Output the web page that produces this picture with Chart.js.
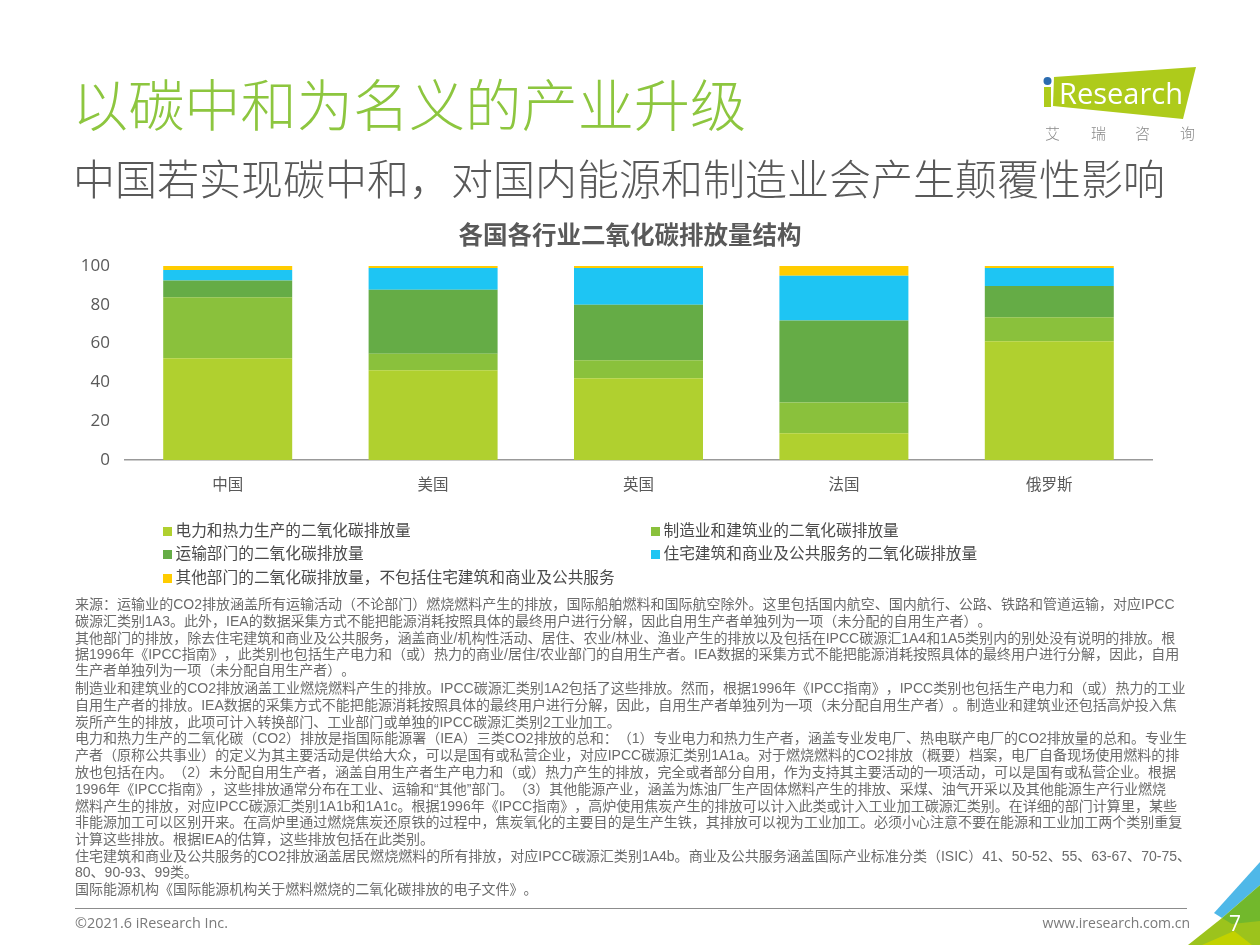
<!DOCTYPE html>
<html lang="zh-CN">
<head>
<meta charset="utf-8">
<title>以碳中和为名义的产业升级</title>
<script src="https://cdn.jsdelivr.net/npm/chart.js@4"></script>
<style>
  html, body { margin: 0; padding: 0; background: #fff; }
  body { position: relative; width: 1260px; height: 945px; overflow: hidden;
         font-family: "Noto Sans CJK SC", "Noto Sans", sans-serif; text-spacing-trim: space-all; }
  canvas { position: absolute; left: 0; top: 0; }
  .abs { position: absolute; white-space: nowrap; }
  .tc { font-family: "Noto Sans CJK TC", sans-serif; }
  #head { left: 72px; top: 60px; font-size: 56.2px; line-height: 84px; color: #8DC63F; font-weight: 300; }
  #sub { left: 73px; top: 147px; font-size: 42px; line-height: 60px; color: #595959; font-weight: 300; }
  .leg { position: absolute; font-size: 15.7px; line-height: 22px; color: #4a4a4a; white-space: nowrap; padding-left: 12.5px; }
  .leg i { position: absolute; left: 0; top: 8px; width: 9px; height: 9px; }
  #notes { left: 75px; top: 595px; font-family: "Liberation Sans", "Noto Sans CJK SC", sans-serif; font-size: 14.02px; line-height: 16.8px; color: #6b6b6b; }
  #notes div { height: 16.8px; }
  #rule { position: absolute; left: 75px; top: 908px; width: 1112px; height: 1px; background: #8c8c8c; }
  #copy { left: 75px; top: 914px; font: 14.4px/18px "Open Sans", sans-serif; color: #7a7a7a; }
  #site { right: 70px; top: 914px; font: 14px/18px "Open Sans", sans-serif; color: #7a7a7a; }
  #page { left: 1229px; top: 909px; font: 21px/28px "Open Sans", sans-serif; color: #fff; }
  svg { position: absolute; left: 0; top: 0; }
</style>
</head>
<body>
<canvas id="chart" width="1260" height="945"></canvas>
<svg width="1260" height="945" viewBox="0 0 1260 945">
  <polygon points="1214,913 1260,862 1260,885 1222,918" fill="#4FB8E8"/>
  <polygon points="1188,945 1222,918 1260,918 1260,945" fill="#9CC31C"/>
  <polygon points="1222,918 1260,885 1260,921 1232,924" fill="#72B82C"/>
  <polygon points="1202,945 1234,931 1252,945" fill="#C2D200"/>
  <polygon points="1054,77 1196,67 1183,119 1053,106" fill="#AECB1B"/>
  <rect x="1044" y="87" width="7" height="20" fill="#AECB1B"/>
  <circle cx="1047.5" cy="81" r="4" fill="#2B6CB0"/>
  <text x="1059" y="104" font-family="Open Sans" font-size="29" fill="#fff">Research</text>
  <text x="1045" y="139" font-family="Noto Sans CJK SC" font-size="15" fill="#8a8a8a" font-weight="300">艾</text>
  <text x="1091" y="139" font-family="Noto Sans CJK SC" font-size="15" fill="#8a8a8a" font-weight="300">瑞</text>
  <text x="1135" y="139" font-family="Noto Sans CJK SC" font-size="15" fill="#8a8a8a" font-weight="300">咨</text>
  <text x="1180" y="139" font-family="Noto Sans CJK SC" font-size="15" fill="#8a8a8a" font-weight="300">询</text>
</svg>
<div class="abs" id="head">以碳中和为名义的产业升级</div>
<div class="abs" id="sub">中国若实现碳中和<span class="tc">，</span>对国内能源和制造业会产生颠覆性影响</div>
<div id="legend"></div>
<div class="abs" id="notes"></div>
<div id="rule"></div>
<div class="abs" id="copy">©2021.6 iResearch Inc.</div>
<div class="abs" id="site">www.iresearch.com.cn</div>
<div class="abs" id="page">7</div>
<script>
const chartTitle = '各国各行业二氧化碳排放量结构';
const categories = ['中国', '美国', '英国', '法国', '俄罗斯'];
const seriesNames = [
  '电力和热力生产的二氧化碳排放量',
  '制造业和建筑业的二氧化碳排放量',
  '运输部门的二氧化碳排放量',
  '住宅建筑和商业及公共服务的二氧化碳排放量',
  '其他部门的二氧化碳排放量，不包括住宅建筑和商业及公共服务'
];
const power = [52.4, 46.2, 42.1, 13.8, 61.2];
const manufacturing = [31.5, 8.6, 9.3, 15.9, 12.4];
const transport = [8.6, 33.0, 28.6, 42.2, 16.1];
const residential = [5.4, 11.2, 19.0, 23.1, 9.3];
const other = [2.1, 1.0, 1.0, 5.0, 1.0];
const colors = ['#B0D02F', '#8AC13C', '#65AC46', '#1EC5F3', '#FFCC00'];
const yTicks = [0, 20, 40, 60, 80, 100];

const noteLines = [
  '来源：运输业的CO2排放涵盖所有运输活动（不论部门）燃烧燃料产生的排放，国际船舶燃料和国际航空除外。这里包括国内航空、国内航行、公路、铁路和管道运输，对应IPCC',
  '碳源汇类别1A3。此外，IEA的数据采集方式不能把能源消耗按照具体的最终用户进行分解，因此自用生产者单独列为一项（未分配的自用生产者）。',
  '其他部门的排放，除去住宅建筑和商业及公共服务，涵盖商业/机构性活动、居住、农业/林业、渔业产生的排放以及包括在IPCC碳源汇1A4和1A5类别内的别处没有说明的排放。根',
  '据1996年《IPCC指南》，此类别也包括生产电力和（或）热力的商业/居住/农业部门的自用生产者。IEA数据的采集方式不能把能源消耗按照具体的最终用户进行分解，因此，自用',
  '生产者单独列为一项（未分配自用生产者）。',
  '制造业和建筑业的CO2排放涵盖工业燃烧燃料产生的排放。IPCC碳源汇类别1A2包括了这些排放。然而，根据1996年《IPCC指南》，IPCC类别也包括生产电力和（或）热力的工业',
  '自用生产者的排放。IEA数据的采集方式不能把能源消耗按照具体的最终用户进行分解，因此，自用生产者单独列为一项（未分配自用生产者）。制造业和建筑业还包括高炉投入焦',
  '炭所产生的排放，此项可计入转换部门、工业部门或单独的IPCC碳源汇类别2工业加工。',
  '电力和热力生产的二氧化碳（CO2）排放是指国际能源署（IEA）三类CO2排放的总和：（1）专业电力和热力生产者，涵盖专业发电厂、热电联产电厂的CO2排放量的总和。专业生',
  '产者（原称公共事业）的定义为其主要活动是供给大众，可以是国有或私营企业，对应IPCC碳源汇类别1A1a。对于燃烧燃料的CO2排放（概要）档案，电厂自备现场使用燃料的排',
  '放也包括在内。（2）未分配自用生产者，涵盖自用生产者生产电力和（或）热力产生的排放，完全或者部分自用，作为支持其主要活动的一项活动，可以是国有或私营企业。根据',
  '1996年《IPCC指南》，这些排放通常分布在工业、运输和“其他”部门。（3）其他能源产业，涵盖为炼油厂生产固体燃料产生的排放、采煤、油气开采以及其他能源生产行业燃烧',
  '燃料产生的排放，对应IPCC碳源汇类别1A1b和1A1c。根据1996年《IPCC指南》，高炉使用焦炭产生的排放可以计入此类或计入工业加工碳源汇类别。在详细的部门计算里，某些',
  '非能源加工可以区别开来。在高炉里通过燃烧焦炭还原铁的过程中，焦炭氧化的主要目的是生产生铁，其排放可以视为工业加工。必须小心注意不要在能源和工业加工两个类别重复',
  '计算这些排放。根据IEA的估算，这些排放包括在此类别。',
  '住宅建筑和商业及公共服务的CO2排放涵盖居民燃烧燃料的所有排放，对应IPCC碳源汇类别1A4b。商业及公共服务涵盖国际产业标准分类（ISIC）41、50-52、55、63-67、70-75、',
  '80、90-93、99类。',
  '国际能源机构《国际能源机构关于燃料燃烧的二氧化碳排放的电子文件》。'
];

// the slide font centres these marks, the TC cut does the same
const centred = s => s.replace(/[，：]/g, m => '<span class="tc">' + m + '</span>');

// one div per line, the line breaks are the ones on the slide
document.getElementById('notes').innerHTML = noteLines.map(l => '<div>' + centred(l) + '</div>').join('');

// two column legend under the chart
const legendSpots = [[163, 519], [651, 519], [163, 542], [651, 542], [163, 566]];
document.getElementById('legend').innerHTML = seriesNames.map((name, i) =>
  '<div class="leg" style="left:' + legendSpots[i][0] + 'px;top:' + legendSpots[i][1] + 'px">' +
  '<i style="background:' + colors[i] + '"></i>' + centred(name) + '</div>').join('');

const values = [power, manufacturing, transport, residential, other];

// the slide centres the chart title on the page, not on the plot box
const pageCentredTitle = {
  id: 'pageCentredTitle',
  afterLayout(chart) {
    chart.titleBlock.left = 0;
    chart.titleBlock.right = chart.width;
  }
};

new Chart(document.getElementById('chart').getContext('2d'), {
  type: 'bar',
  plugins: [pageCentredTitle],
  data: {
    labels: categories,
    datasets: seriesNames.map((name, i) => ({
      label: name,
      data: values[i],
      backgroundColor: colors[i],
      borderWidth: 0,
      categoryPercentage: 1,
      barPercentage: 0.628
    }))
  },
  options: {
    responsive: false,
    animation: false,
    layout: { padding: { left: 70, right: 108, top: 215, bottom: 440 } },
    plugins: {
      legend: { display: false },
      tooltip: { enabled: false },
      title: {
        display: true,
        text: chartTitle,
        color: '#595959',
        font: { family: '"Noto Sans CJK SC"', size: 24.5, weight: 'bold', lineHeight: 1.2 },
        padding: { top: 5, bottom: 16.6 }
      }
    },
    scales: {
      x: {
        stacked: true,
        grid: { display: false, drawTicks: false },
        border: { color: '#999999', width: 1.5 },
        ticks: { color: '#595959', padding: 15, font: { family: '"Noto Sans CJK SC"', size: 15.5 } },
        afterFit: s => { s.height = 45; }
      },
      y: {
        stacked: true,
        min: 0,
        max: 100,
        afterBuildTicks: s => { s.ticks = yTicks.map(v => ({ value: v })); },
        grid: { display: false, drawTicks: false },
        border: { display: false },
        ticks: { color: '#595959', padding: 15, font: { family: '"Open Sans"', size: 17 } },
        afterFit: s => { s.width = 55; }
      }
    }
  }
});
</script>
</body>
</html>
